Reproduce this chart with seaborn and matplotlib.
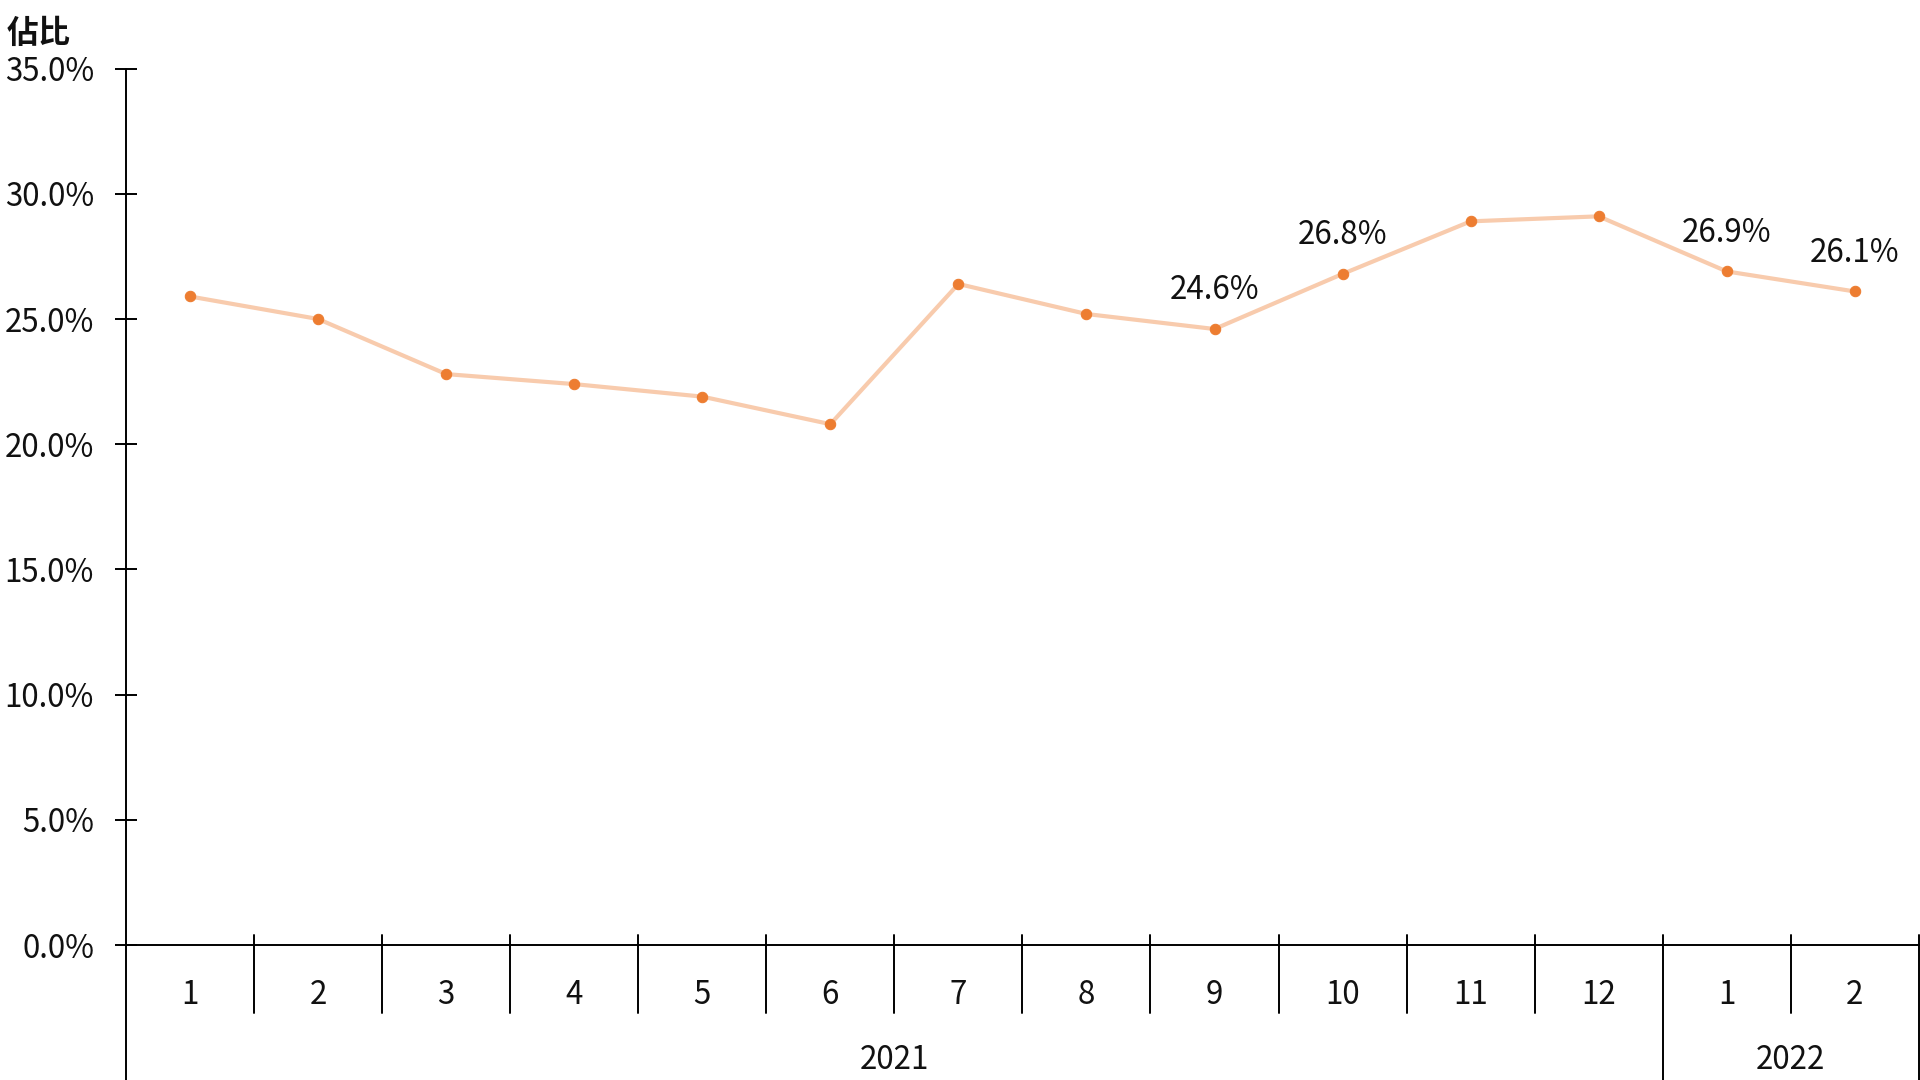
import pandas as pd
import numpy as np
import matplotlib
matplotlib.use("Agg")
import matplotlib.pyplot as plt
import matplotlib.transforms as mtransforms
import seaborn as sns

months = ["1", "2", "3", "4", "5", "6", "7", "8", "9", "10", "11", "12", "1", "2"]
shares = [25.9, 25.0, 22.8, 22.4, 21.9, 20.8, 26.4, 25.2, 24.6, 26.8, 28.9, 29.1, 26.9, 26.1]
shown_labels = [8, 9, 12, 13]
years = ["2021", "2022"]
year_spans = [(0, 11), (12, 13)]

sns.set_theme(style="white")
plt.rcParams['font.family'] = ['Noto Sans CJK TC', 'DejaVu Sans']

df = pd.DataFrame({"pos": np.arange(len(shares)), "month": months, "share": shares})

fig = plt.figure(figsize=(19.2, 10.8), dpi=100)
ax = fig.add_axes([126 / 1920, 1 - 945 / 1080, 1 - 126 / 1920 - 0.0006, (945 - 68.6) / 1080])

sns.lineplot(data=df, x="pos", y="share", ax=ax, color="#F8CBAD", linewidth=3,
             marker="o", markersize=7.5, markerfacecolor="#ED7D31", markeredgecolor="#ED7D31")

ax.set_xlim(-0.5, len(shares) - 0.5)
ax.set_ylim(0, 35)
ax.set_yticks(np.arange(0, 36, 5))
ax.set_yticklabels([f"{v:.1f}%" for v in np.arange(0, 36, 5)], fontsize=22.5, color="#111111")
ax.tick_params(axis='y', direction='inout', length=16, width=1.4, color="black", pad=15, left=True)
ax.set_xticks([])
ax.set_xlabel("")
ax.set_ylabel("")

for s in ["top", "right", "left"]:
    ax.spines[s].set_visible(False)
ax.spines["bottom"].set_color("black")
ax.spines["bottom"].set_linewidth(1.4)

tr = mtransforms.blended_transform_factory(ax.transData, ax.transAxes)
# left axis line reaching down to the figure bottom
ax.plot([-0.5, -0.5], [1, -0.16], transform=tr, color="black", lw=1.4, clip_on=False)
# month separators
year_edges = [a - 0.5 for a, b in year_spans] + [year_spans[-1][1] + 0.5]
for x in np.arange(0.5, len(shares) - 0.5, 1):
    if x in year_edges:
        continue
    ax.plot([x, x], [0.0114, -0.0776], transform=tr, color="black", lw=1.4, clip_on=False)
for x in year_edges[1:]:
    ax.plot([x, x], [0.0114, -0.16], transform=tr, color="black", lw=1.4, clip_on=False)

for i, m in enumerate(months):
    ax.text(i, -0.057, m, transform=tr, ha="center", va="center", fontsize=22.5, color="#111111")
for y, (a, b) in zip(years, year_spans):
    ax.text((a + b) / 2, -0.1315, y, transform=tr, ha="center", va="center", fontsize=22.5, color="#111111")

for i in shown_labels:
    ax.annotate(f"{shares[i]:.1f}%", (i, shares[i]), xytext=(0, 28), textcoords="offset points",
                ha="center", va="center", fontsize=22.5, color="#111111")

fig.text(7 / 1920, 1 - 34 / 1080, "佔比", ha="left", va="center", fontsize=23,
         fontweight="bold", color="#111111")

fig.savefig("out.png", dpi=100)
